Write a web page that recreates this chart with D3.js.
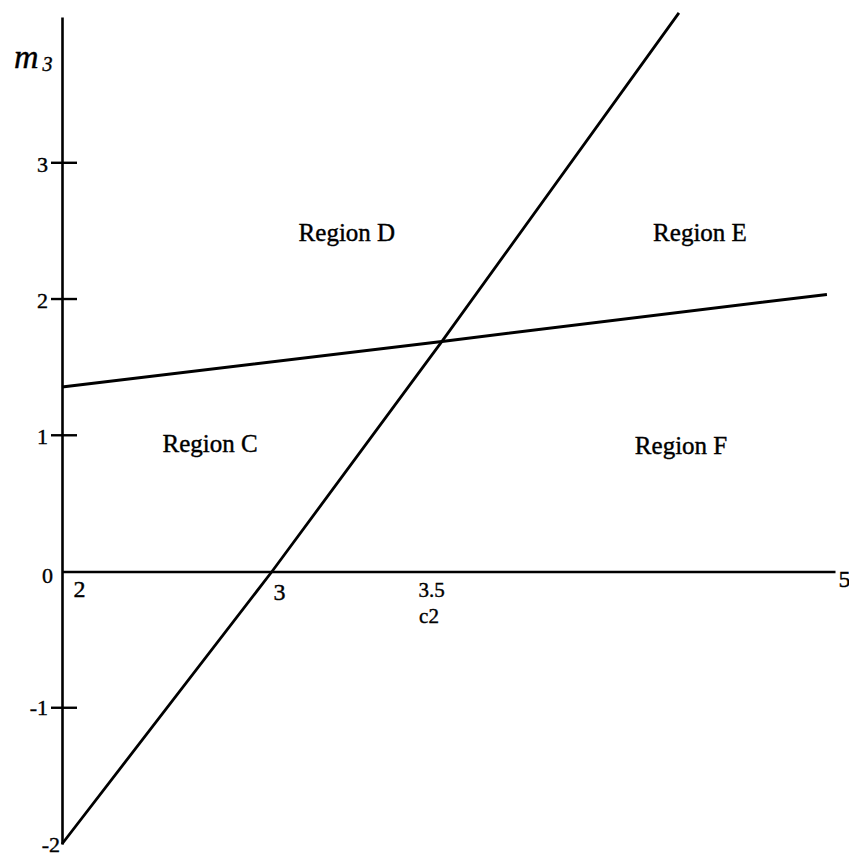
<!DOCTYPE html>
<html><head><meta charset="utf-8">
<script src="https://cdn.jsdelivr.net/npm/d3@7"></script>
<style>body{margin:0;background:#fff;} svg{display:block;}</style>
</head><body><svg id="chart" width="849" height="856"></svg>
<script>
// ---- data ----
const xTickValues = [2, 3, 3.5, 5];
const xTickLabels = ["2", "3", "3.5", "5"];
const xSubLabel = "c2";
const yTickValues = [-2, -1, 0, 1, 2, 3];
const yTickLabels = ["-2", "-1", "0", "1", "2", "3"];
const yMarkedTicks = [-1, 1, 2, 3];
const steepC2 = [2, 3, 3.537, 4.419];
const steepM3 = [-2, 0, 1.689, 4.10];
const flatC2 = [2, 3.537, 4.97];
const flatM3 = [1.355, 1.689, 2.034];
const regionNames = ["Region C", "Region D", "Region E", "Region F"];
const regionC2 = [2.705, 3.234, 4.4975, 4.427];
const regionM3 = [0.874, 2.423, 2.423, 0.859];

// ---- layout / style ----
const FONT = "'Liberation Serif','Times New Roman',serif";
const xLabelDx = [17, 7, -1, 9];
const xLabelDy = [25, 28, 25, 15];
const xLabelSize = [24, 24, 21, 24];
const yLabelDx = [-2, -14, -9, -14, -14, -14];
const yLabelDy = [7, 7, 11, 8, 8, 9];

const svg = d3.select("#chart");
const x = d3.scaleLinear().domain([2, 3, 3.5, 5]).range([62, 272, 432, 835]);
const y = d3.scaleLinear().domain([-2, 4.07]).range([844, 17]);
const x0 = x(2), y0 = y(0);

// x axis (domain line only, labels placed below)
const gx = svg.append("g").attr("transform", `translate(0,${y0})`)
  .call(d3.axisBottom(x).tickValues(xTickValues).tickSize(0).tickFormat((d, i) => xTickLabels[i]));
gx.select(".domain").attr("stroke", "#000").attr("stroke-width", 2.6);
gx.selectAll(".tick text")
  .attr("font-family", FONT).attr("fill", "#000")
  .attr("stroke", "#000").attr("stroke-width", 0.4)
  .attr("font-size", (d, i) => xLabelSize[i])
  .attr("dx", (d, i) => xLabelDx[i])
  .attr("y", 0).attr("dy", (d, i) => xLabelDy[i]);

svg.append("text").attr("x", x(3.5) - 3).attr("y", y0 + 51)
  .attr("text-anchor", "middle").attr("font-family", FONT).attr("font-size", 21)
  .attr("stroke", "#000").attr("stroke-width", 0.4)
  .text(xSubLabel);

// y axis
const gy = svg.append("g").attr("transform", `translate(${x0},0)`)
  .call(d3.axisLeft(y).tickValues(yTickValues).tickSize(0).tickSizeOuter(0).tickFormat((d, i) => yTickLabels[i]));
gy.select(".domain").attr("stroke", "#000").attr("stroke-width", 2.6);
gy.selectAll(".tick text")
  .attr("font-family", FONT).attr("font-size", 22).attr("fill", "#000")
  .attr("stroke", "#000").attr("stroke-width", 0.4)
  .attr("x", (d, i) => yLabelDx[i]).attr("dy", 0)
  .attr("transform", (d, i) => `translate(0,${yLabelDy[i]})`);
gy.selectAll(".tick line").remove();
svg.append("g").selectAll("line").data(yMarkedTicks).join("line")
  .attr("x1", x0 - 11).attr("x2", x0 + 15)
  .attr("y1", d => y(d)).attr("y2", d => y(d))
  .attr("stroke", "#000").attr("stroke-width", 2.4);

// axis title m3
const t = svg.append("text").attr("x", 14).attr("y", 68)
  .attr("font-family", FONT).attr("font-style", "italic")
  .attr("stroke", "#000").attr("stroke-width", 0.4);
t.append("tspan").attr("font-size", 34).text("m");
t.append("tspan").attr("font-size", 20).attr("dx", 4).attr("dy", 3).text("3");

// lines
const line = d3.line().x(d => x(d[0])).y(d => y(d[1]));
svg.append("path").datum(steepC2.map((c, i) => [c, steepM3[i]]))
  .attr("d", line).attr("fill", "none").attr("stroke", "#000").attr("stroke-width", 2.8)
  .attr("stroke-linejoin", "round");
svg.append("path").datum(flatC2.map((c, i) => [c, flatM3[i]]))
  .attr("d", line).attr("fill", "none").attr("stroke", "#000").attr("stroke-width", 3)
  .attr("stroke-linejoin", "round");

// region labels
svg.append("g").selectAll("text").data(regionNames).join("text")
  .attr("x", (d, i) => x(regionC2[i])).attr("y", (d, i) => y(regionM3[i]))
  .attr("text-anchor", "middle").attr("font-family", FONT).attr("font-size", 25)
  .attr("stroke", "#000").attr("stroke-width", 0.4)
  .text(d => d);
</script>
</body></html>
